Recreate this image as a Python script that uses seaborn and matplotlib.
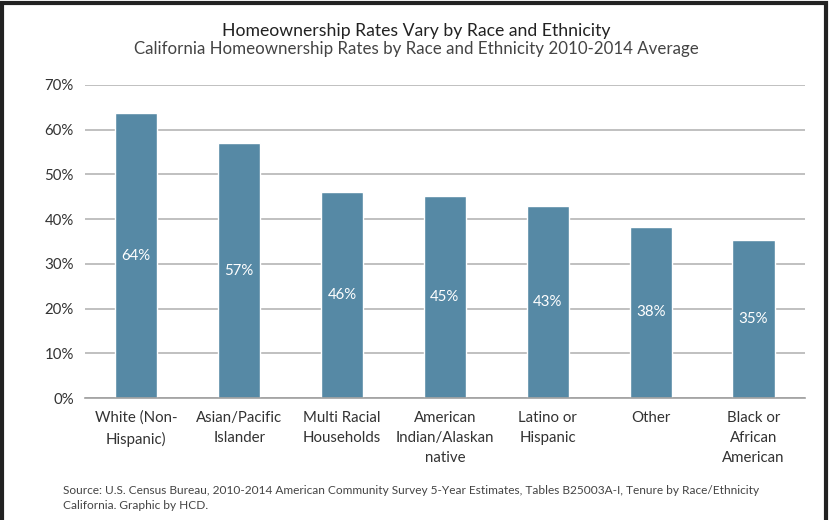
import matplotlib
matplotlib.use("Agg")
import matplotlib.pyplot as plt
import seaborn as sns
import pandas as pd
from matplotlib.patches import Rectangle

categories = ["White (Non-\nHispanic)", "Asian/Pacific\nIslander", "Multi Racial\nHouseholds",
              "American\nIndian/Alaskan\nnative", "Latino or\nHispanic", "Other",
              "Black or\nAfrican\nAmerican"]
rates = [63.7, 57.0, 46.1, 45.2, 43.0, 38.3, 35.3]
value_labels = ["64%", "57%", "46%", "45%", "43%", "38%", "35%"]
yticks = [0, 10, 20, 30, 40, 50, 60, 70]

sns.set_theme(style="white")
plt.rcParams['font.family'] = ['Lato', 'DejaVu Sans']

df = pd.DataFrame({"cat": categories, "rate": rates})

fig = plt.figure(figsize=(8.32, 5.2), dpi=100)
ax = fig.add_axes([0.102, 0.2346, 0.8655, 0.602])
bar_color = "#5689a5"
sns.barplot(data=df, x="cat", y="rate", color=bar_color, width=0.41, saturation=1, ax=ax)

ax.set_ylim(0, 70)
ax.set_xlim(-0.5, len(categories) - 0.5)
ax.set_yticks(yticks)
ax.set_yticklabels([f"{t}%" for t in yticks], fontsize=10.8, color="#333333")
ax.yaxis.grid(True, color="#b5b5b5", linewidth=1.2)
ax.set_axisbelow(True)
ax.set_xlabel("")
ax.set_ylabel("")
for s in ["top", "right", "left"]:
    ax.spines[s].set_visible(False)
ax.spines["bottom"].set_color("#a0a0a0")
ax.spines["bottom"].set_linewidth(1.2)
ax.tick_params(axis="y", length=0, pad=8)
ax.tick_params(axis="x", which="major", length=0, pad=9, labelsize=10.8, labelcolor="#333333")
ax.set_xticks(range(len(categories)))
ax.set_xticklabels(categories, linespacing=1.55, va="top")
ax.set_xticks([i - 0.5 for i in range(len(categories) + 1)], minor=True)
ax.tick_params(axis="x", which="minor", length=5, width=1, color="#a0a0a0", direction="out")

for p, lab in zip(ax.patches, value_labels):
    ax.text(p.get_x() + p.get_width() / 2, p.get_height() / 2, lab,
            ha="center", va="center", color="white", fontsize=10.8)

fig.text(0.5, 0.940, "Homeownership Rates Vary by Race and Ethnicity", ha="center", va="center",
         fontsize=12.7, color="#222222")
fig.text(0.5, 0.906, "California Homeownership Rates by Race and Ethnicity 2010-2014 Average",
         ha="center", va="center", fontsize=12.2, color="#444444")
fig.text(0.076, 0.042, "Source: U.S. Census Bureau, 2010-2014 American Community Survey 5-Year Estimates, Tables B25003A-I, Tenure by Race/Ethnicity\nCalifornia. Graphic by HCD.",
         ha="left", va="center", fontsize=8.6, color="#444444", linespacing=1.45)

fig.patches.append(Rectangle((0.003, -0.05), 0.990, 1.045, transform=fig.transFigure,
                             fill=False, edgecolor="#222222", linewidth=3))

fig.savefig("out.png", dpi=100)
